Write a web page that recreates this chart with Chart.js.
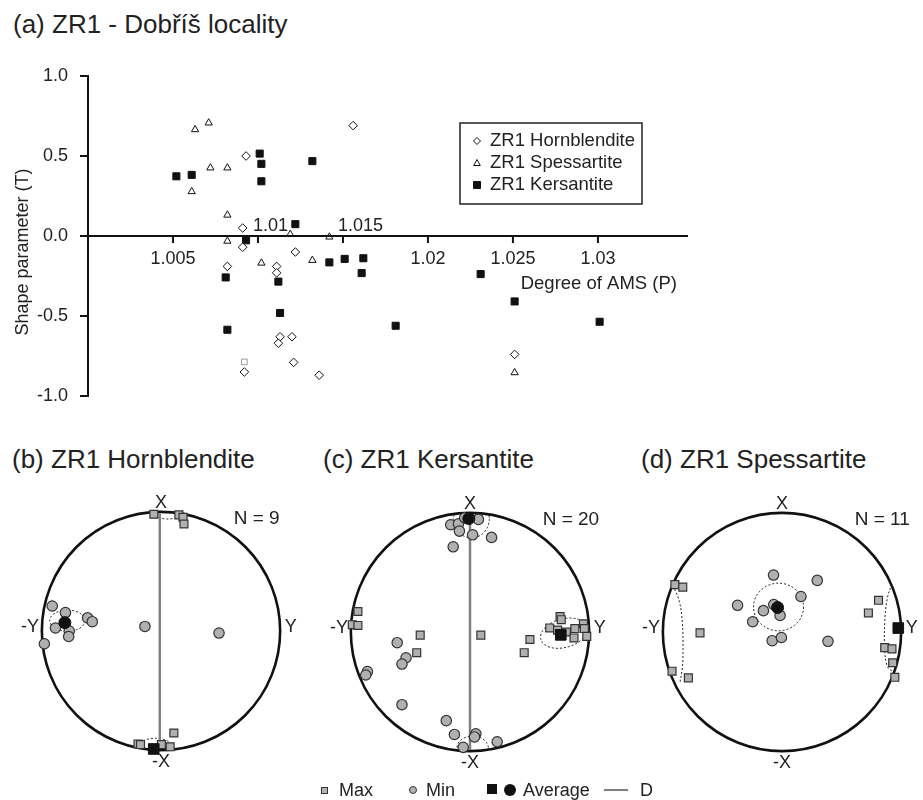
<!DOCTYPE html>
<html>
<head>
<meta charset="utf-8">
<title>ZR1 - Dobříš locality</title>
<script src="https://cdn.jsdelivr.net/npm/chart.js@4.4.0/dist/chart.umd.min.js"></script>
<style>
  body { margin: 0; width: 923px; height: 800px; background: #fff; position: relative; overflow: hidden;
         font-family: "Liberation Sans", Arial, sans-serif; color: #222; }
  canvas { position: absolute; }
  .title { position: absolute; font-size: 26px; line-height: 26px; white-space: nowrap; }
  .key { position: absolute; font-size: 18px; line-height: 18px; white-space: nowrap; }
  .mk { position: absolute; box-sizing: border-box; }
</style>
</head>
<body>
<div class="title" style="left:13px;top:11px">(a) ZR1 - Dobříš locality</div>
<canvas id="chartT" width="923" height="420" style="left:0;top:0"></canvas>

<div class="title" style="left:12px;top:446px">(b) ZR1 Hornblendite</div>
<div class="title" style="left:323px;top:446px">(c) ZR1 Kersantite</div>
<div class="title" style="left:641px;top:446px">(d) ZR1 Spessartite</div>
<canvas id="netB" width="300" height="300" style="left:11px;top:481px"></canvas>
<canvas id="netC" width="300" height="300" style="left:320px;top:482px"></canvas>
<canvas id="netD" width="300" height="300" style="left:632px;top:482px"></canvas>

<!-- key for the stereonets -->
<span class="mk" style="left:321px;top:787px;width:7px;height:7px;background:#b3b3b3;border:1px solid #333"></span>
<div class="key" style="left:339px;top:781px">Max</div>
<span class="mk" style="left:409px;top:786px;width:8px;height:8px;background:#b3b3b3;border:1px solid #333;border-radius:50%"></span>
<div class="key" style="left:426px;top:781px">Min</div>
<span class="mk" style="left:487px;top:784px;width:10px;height:10px;background:#111"></span>
<span class="mk" style="left:504px;top:784px;width:12px;height:12px;background:#111;border-radius:50%"></span>
<div class="key" style="left:523px;top:781px">Average</div>
<span class="mk" style="left:604px;top:789px;width:24px;height:2px;background:#808080"></span>
<div class="key" style="left:640px;top:781px">D</div>

<script>
// ---- (a) degree of anisotropy vs shape parameter ----
const hornP = [1.0156, 1.0093, 1.0091, 1.0091, 1.0082, 1.0111, 1.0111, 1.0122, 1.0113, 1.0112, 1.0120, 1.0121, 1.0092, 1.0136, 1.0251];
const hornT = [0.69, 0.50, 0.05, -0.07, -0.19, -0.19, -0.23, -0.10, -0.63, -0.67, -0.63, -0.79, -0.85, -0.87, -0.74];

const spessP = [1.0063, 1.0071, 1.0061, 1.0072, 1.0082, 1.0082, 1.0082, 1.0102, 1.0119, 1.0132, 1.0142, 1.0251];
const spessT = [0.665, 0.707, 0.278, 0.426, 0.426, 0.131, -0.032, -0.169, 0.011, -0.152, -0.006, -0.854];

const kersP = [1.0052, 1.0061, 1.0101, 1.0102, 1.0102, 1.0132, 1.0122, 1.0093, 1.0081, 1.0112,
               1.0113, 1.0082, 1.0142, 1.0151, 1.0162, 1.0161, 1.0181, 1.0231, 1.0251, 1.0301];
const kersT = [0.373, 0.382, 0.515, 0.451, 0.342, 0.468, 0.074, -0.027, -0.259, -0.285,
               -0.481, -0.586, -0.165, -0.143, -0.139, -0.232, -0.561, -0.238, -0.409, -0.536];

// single grey sample sitting next to the hornblendite cluster
const greyP = [1.0092];
const greyT = [-0.787];

const xTicks = [1.005, 1.01, 1.015, 1.02, 1.025, 1.03];
const xTicksAbove = [1.01, 1.015];   // these two labels sit above the T = 0 line
const yTicks = [-1, -0.5, 0, 0.5, 1];

// ---- (b)-(d) stereonets, unit-circle coordinates (x to the right, y up) ----
const hbMax = [[-0.06, 0.98], [0.15, 0.975], [0.185, 0.954], [0.193, 0.898], [0.108, -0.856],
               [-0.193, -0.948], [-0.172, -0.953], [0.003, -0.953], [0.077, -0.972]];
const hbMin = [[-0.913, 0.21], [-0.802, 0.155], [-0.886, 0.025], [-0.77, -0.001], [-0.775, -0.046],
               [-0.616, 0.11], [-0.577, 0.078], [-0.979, -0.107], [-0.135, 0.038], [0.487, -0.017]];
const hbMaxAvg = [[-0.061, -0.99]];
const hbMinAvg = [[-0.807, 0.07]];
const hbD = [[-0.01, 0.985], [-0.01, -0.985]];
const hbConf = [[-0.786, 0.087, 0.148, 0.089, 0], [-0.048, -0.98, 0.146, 0.08, 0], [0.058, 0.99, 0.12, 0.05, 0]];

const ksMax = [[-0.941, 0.172], [-0.988, 0.061], [-0.941, 0.055], [-0.418, -0.026], [-0.447, -0.174],
               [0.091, -0.026], [0.503, -0.063], [0.455, -0.174], [0.669, 0.034], [0.735, 0.016],
               [0.756, 0.129], [0.766, 0.103], [0.809, 0.0], [0.88, 0.029], [0.873, -0.05],
               [0.952, 0.069], [0.96, 0.029], [0.98, -0.037]];
const ksMin = [[-0.162, 0.9], [-0.097, 0.908], [-0.089, 0.847], [0.07, 0.945], [0.022, 0.816],
               [0.181, 0.794], [-0.141, 0.715], [-0.044, 0.958], [-0.611, -0.09], [-0.537, -0.216],
               [-0.571, -0.269], [-0.861, -0.332], [-0.875, -0.361], [-0.571, -0.61], [-0.199, -0.744],
               [-0.131, -0.86], [0.049, -0.855], [0.038, -0.881], [0.228, -0.921], [-0.057, -0.968]];
const ksMaxAvg = [[0.762, -0.024]];
const ksMinAvg = [[-0.01, 0.952]];
const ksD = [[0.0, 0.96], [0.0, -0.99]];
const ksConf = [[0.012, 0.95, 0.15, 0.16, 0], [0.788, -0.01, 0.2, 0.12, 15], [0.022, -0.974, 0.132, 0.1, 0]];

const spMax = [[-0.899, 0.398], [-0.833, 0.377], [-0.688, -0.007], [-0.923, -0.329], [-0.786, -0.385],
               [0.81, 0.266], [0.725, 0.16], [0.862, -0.131], [0.923, -0.142], [0.929, -0.258], [0.947, -0.38]];
const spMin = [[-0.071, 0.478], [0.296, 0.433], [0.159, 0.298], [-0.373, 0.224], [-0.156, 0.179],
               [-0.069, 0.231], [-0.016, 0.139], [-0.246, 0.086], [-0.082, -0.073], [-0.005, -0.046], [0.386, -0.078]];
const spMaxAvg = [[0.976, 0.033]];
const spMinAvg = [[-0.037, 0.205]];
const spConf = [[-0.029, 0.21, 0.21, 0.2, 0]];
const spConfL = [[-0.915, 0.39], [-0.862, 0.258], [-0.836, 0.073], [-0.831, -0.139], [-0.836, -0.297], [-0.857, -0.429]];
const spConfR = [[0.923, 0.403], [0.884, 0.284], [0.862, 0.073], [0.862, -0.139], [0.878, -0.271], [0.91, -0.319], [0.958, -0.319]];

const FONT = '"Liberation Sans", Arial, sans-serif';
const INK = '#222';
Chart.defaults.font.family = FONT;
Chart.defaults.color = INK;
Chart.defaults.animation = false;

const pairs = (xs, ys) => xs.map((v, i) => ({ x: v, y: ys[i] }));
const pts = arr => arr.map(([x, y]) => ({ x, y }));

// horizontal axis drawn across the plot at T = 0, plus both axis titles
const crossAxis = {
  id: 'crossAxis',
  afterDraw(chart) {
    const { ctx, chartArea: a, scales: { x, y } } = chart;
    const y0 = y.getPixelForValue(0);
    ctx.save();
    ctx.strokeStyle = '#111';
    ctx.lineWidth = 2;
    ctx.beginPath();
    ctx.moveTo(a.left, y0);
    ctx.lineTo(a.right, y0);
    xTicks.forEach(v => {
      const px = x.getPixelForValue(v);
      ctx.moveTo(px, y0);
      ctx.lineTo(px, y0 + 7);
    });
    ctx.stroke();

    ctx.fillStyle = INK;
    ctx.font = '18px ' + FONT;
    ctx.textBaseline = 'middle';
    xTicks.forEach(v => {
      const px = x.getPixelForValue(v);
      if (xTicksAbove.includes(v)) {
        ctx.textAlign = 'left';
        ctx.fillText(String(v), px - 5, y0 - 10);
      } else {
        ctx.textAlign = 'center';
        ctx.fillText(String(v), px, y0 + 23);
      }
    });
    ctx.font = '18.5px ' + FONT;
    ctx.textAlign = 'right';
    ctx.fillText('Degree of AMS (P)', a.right - 11, y0 + 48);

    ctx.translate(23, (a.top + a.bottom) / 2 + 16);
    ctx.rotate(-Math.PI / 2);
    ctx.textAlign = 'center';
    ctx.font = '18px ' + FONT;
    ctx.fillText('Shape parameter (T)', 0, 0);
    ctx.restore();
  }
};

// boxed key with the three rock types
const keyBox = {
  id: 'keyBox',
  afterDraw(chart) {
    const { ctx, chartArea: a } = chart;
    const bx = a.left + 372, by = a.top + 47, bw = 182, bh = 81;
    ctx.save();
    ctx.strokeStyle = '#222';
    ctx.lineWidth = 1.5;
    ctx.strokeRect(bx, by, bw, bh);
    ctx.font = '18.5px ' + FONT;
    ctx.textBaseline = 'middle';
    ctx.textAlign = 'left';
    chart.data.datasets.forEach((ds, i) => {
      if (!ds.label) return;
      const mx = bx + 17, my = by + 18 + i * 22;
      ctx.beginPath();
      if (ds.pointStyle === 'rectRot') {
        ctx.moveTo(mx - 3.5, my); ctx.lineTo(mx, my - 3.5); ctx.lineTo(mx + 3.5, my); ctx.lineTo(mx, my + 3.5);
      } else if (ds.pointStyle === 'triangle') {
        ctx.moveTo(mx, my - 3.5); ctx.lineTo(mx + 3.3, my + 2.5); ctx.lineTo(mx - 3.3, my + 2.5);
      } else {
        ctx.rect(mx - 3.5, my - 3.5, 7, 7);
      }
      ctx.closePath();
      ctx.fillStyle = ds.pointBackgroundColor;
      ctx.fill();
      ctx.lineWidth = 1;
      ctx.strokeStyle = ds.pointBorderColor;
      ctx.stroke();
      ctx.fillStyle = INK;
      ctx.fillText(ds.label, bx + 30, my);
    });
    ctx.restore();
  }
};

new Chart(document.getElementById('chartT'), {
  type: 'scatter',
  data: {
    datasets: [
      { label: 'ZR1 Hornblendite', data: pairs(hornP, hornT), pointStyle: 'rectRot', pointRadius: 4.3,
        pointBackgroundColor: '#fff', pointBorderColor: '#111', pointBorderWidth: 1 },
      { label: 'ZR1 Spessartite', data: pairs(spessP, spessT), pointStyle: 'triangle', pointRadius: 4.2,
        pointBackgroundColor: '#fff', pointBorderColor: '#111', pointBorderWidth: 1 },
      { label: 'ZR1 Kersantite', data: pairs(kersP, kersT), pointStyle: 'rect', pointRadius: 5,
        pointBackgroundColor: '#111', pointBorderColor: '#111', pointBorderWidth: 1 },
      { label: '', data: pairs(greyP, greyT), pointStyle: 'rect', pointRadius: 4,
        pointBackgroundColor: '#fff', pointBorderColor: '#9a9a9a', pointBorderWidth: 1 }
    ]
  },
  options: {
    responsive: false,
    events: [],
    layout: { padding: { left: 0, top: 76, right: 235, bottom: 24 } },
    plugins: { legend: { display: false }, tooltip: { enabled: false } },
    scales: {
      x: { type: 'linear', display: false, min: 1.0, max: 1.0353 },
      y: {
        type: 'linear', min: -1, max: 1,
        afterBuildTicks: s => { s.ticks = yTicks.map(v => ({ value: v })); },
        afterFit: s => { s.width = 88; },
        ticks: { font: { size: 18 }, color: INK, padding: 12, callback: v => v.toFixed(1) },
        grid: { drawOnChartArea: false, color: '#111', lineWidth: 2, tickLength: 8 },
        border: { color: '#111', width: 2 }
      }
    }
  },
  plugins: [crossAxis, keyBox]
});

// ---- stereonets ----
const NET_SPAN = 150 / 126.3;   // canvas half-size over net radius
const GREY = '#b0b0b0';

function netSets(max, min, maxAvg, minAvg, contours, dLine) {
  const sets = [
    { data: pts(maxAvg), pointStyle: 'rect', pointRadius: 7.5, pointBackgroundColor: '#111', pointBorderColor: '#111', pointBorderWidth: 1 },
    { data: pts(minAvg), pointStyle: 'circle', pointRadius: 6, pointBackgroundColor: '#111', pointBorderColor: '#111', pointBorderWidth: 1 },
    { data: pts(max), pointStyle: 'rect', pointRadius: 5.6, pointBackgroundColor: GREY, pointBorderColor: '#333', pointBorderWidth: 1.2 },
    { data: pts(min), pointStyle: 'circle', pointRadius: 5.2, pointBackgroundColor: GREY, pointBorderColor: '#333', pointBorderWidth: 1.2 }
  ];
  contours.forEach(c => sets.push({
    data: pts(c), showLine: true, pointRadius: 0, borderColor: '#222', borderWidth: 1, borderDash: [2, 2], tension: 0.4
  }));
  if (dLine) {
    sets.push({ data: pts(dLine), showLine: true, pointRadius: 0, borderColor: '#808080', borderWidth: 2.5 });
  }
  return sets;
}

function netFrame(conf, count) {
  return {
    id: 'netFrame',
    beforeDatasetsDraw(chart) {
      const { ctx, scales: { x, y } } = chart;
      const cx = x.getPixelForValue(0), cy = y.getPixelForValue(0);
      const r = x.getPixelForValue(1) - cx;
      ctx.save();
      ctx.beginPath();
      ctx.arc(cx, cy, r, 0, Math.PI * 2);
      ctx.clip();
      ctx.setLineDash([2, 2]);
      ctx.lineWidth = 1;
      ctx.strokeStyle = '#222';
      conf.forEach(([ex, ey, rx, ry, tilt]) => {
        ctx.beginPath();
        ctx.ellipse(x.getPixelForValue(ex), y.getPixelForValue(ey), rx * r, ry * r, -tilt * Math.PI / 180, 0, Math.PI * 2);
        ctx.stroke();
      });
      ctx.restore();
      ctx.save();
      ctx.lineWidth = 2.6;
      ctx.strokeStyle = '#111';
      ctx.beginPath();
      ctx.arc(cx, cy, r, 0, Math.PI * 2);
      ctx.stroke();
      ctx.restore();
    },
    afterDraw(chart) {
      const { ctx, scales: { x, y } } = chart;
      ctx.save();
      ctx.fillStyle = INK;
      ctx.font = '18px ' + FONT;
      ctx.textBaseline = 'middle';
      ctx.textAlign = 'center';
      ctx.fillText('X', x.getPixelForValue(0), y.getPixelForValue(1.07));
      ctx.fillText('-X', x.getPixelForValue(0), y.getPixelForValue(-1.1));
      ctx.fillText('-Y', x.getPixelForValue(-1.1), y.getPixelForValue(0.03));
      ctx.fillText('Y', x.getPixelForValue(1.09), y.getPixelForValue(0.03));
      ctx.font = '19px ' + FONT;
      ctx.textAlign = 'left';
      ctx.fillText('N = ' + count, x.getPixelForValue(0.61), y.getPixelForValue(0.94));
      ctx.restore();
    }
  };
}

function makeNet(id, datasets, conf, count) {
  return new Chart(document.getElementById(id), {
    type: 'scatter',
    data: { datasets },
    options: {
      responsive: false,
      events: [],
      layout: { padding: 0 },
      plugins: { legend: { display: false }, tooltip: { enabled: false } },
      scales: {
        x: { type: 'linear', display: false, min: -NET_SPAN, max: NET_SPAN },
        y: { type: 'linear', display: false, min: -NET_SPAN, max: NET_SPAN }
      }
    },
    plugins: [netFrame(conf, count)]
  });
}

makeNet('netB', netSets(hbMax, hbMin, hbMaxAvg, hbMinAvg, [], hbD), hbConf, 9);
makeNet('netC', netSets(ksMax, ksMin, ksMaxAvg, ksMinAvg, [], ksD), ksConf, 20);
makeNet('netD', netSets(spMax, spMin, spMaxAvg, spMinAvg, [spConfL, spConfR], null), spConf, 11);
</script>
</body>
</html>
